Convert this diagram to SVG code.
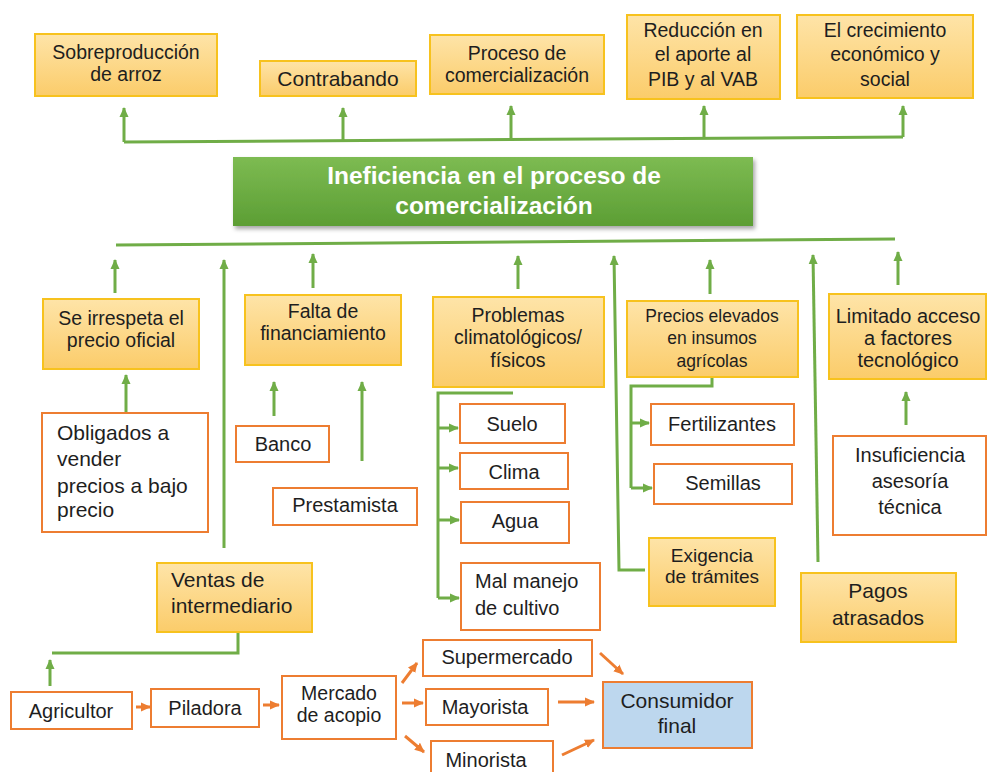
<svg xmlns="http://www.w3.org/2000/svg" width="987" height="772" viewBox="0 0 987 772">
<defs>
<linearGradient id="gy" x1="0" y1="0" x2="0" y2="1">
<stop offset="0" stop-color="#fee4a8"/>
<stop offset="1" stop-color="#fbcc6a"/>
</linearGradient>
<linearGradient id="gg" x1="0" y1="0" x2="0" y2="1">
<stop offset="0" stop-color="#7dbb52"/>
<stop offset="1" stop-color="#5c9e34"/>
</linearGradient>
<filter id="sh" x="-5%" y="-10%" width="115%" height="130%">
<feDropShadow dx="2" dy="3" stdDeviation="2" flood-color="#000" flood-opacity="0.35"/>
</filter>
<marker id="ag" viewBox="0 0 10 10" refX="9" refY="5" markerWidth="10" markerHeight="10" markerUnits="userSpaceOnUse" orient="auto">
<path d="M0,0.5 L10,5 L0,9.5 z" fill="#70ad47"/>
</marker>
<marker id="ao" viewBox="0 0 10 10" refX="9" refY="5" markerWidth="10" markerHeight="10" markerUnits="userSpaceOnUse" orient="auto">
<path d="M0,0.5 L10,5 L0,9.5 z" fill="#ed7d31"/>
</marker>
</defs>
<style>
text{font-family:"Liberation Sans",Arial,sans-serif;fill:#1e1e1e;font-size:20px}
.c{text-anchor:middle}
.y{fill:url(#gy);stroke:#f7c21e;stroke-width:2}
.o{fill:#ffffff;stroke:#ed7d31;stroke-width:2}
.b{fill:#bdd7ee;stroke:#ed7d31;stroke-width:2}
.gl{fill:none;stroke:#70ad47;stroke-width:3}
.ga{fill:none;stroke:#70ad47;stroke-width:3;marker-end:url(#ag)}
.oa{fill:none;stroke:#ed7d31;stroke-width:3;marker-end:url(#ao)}
.t{font-size:19.5px}
.s{font-size:17.5px}
.w{font-size:24.5px;font-weight:bold;fill:#ffffff}
</style>
<rect width="987" height="772" fill="#ffffff"/>

<g id="connectors">
<path class="gl" d="M124,142 L903,137"/>
<path class="ga" d="M124,142 L124,108"/>
<path class="ga" d="M343,141 L343,108"/>
<path class="ga" d="M511,139 L511,106"/>
<path class="ga" d="M704,138 L704,106"/>
<path class="ga" d="M903,137 L903,106"/>
<path class="gl" d="M116,245 L895,239"/>
<path class="ga" d="M115,293 L115,260"/>
<path class="ga" d="M224,548 L224,260"/>
<path class="ga" d="M313,288 L313,254"/>
<path class="ga" d="M518,289 L518,256"/>
<path class="ga" d="M645,570 L619,570 L614,256"/>
<path class="ga" d="M710,294 L710,260"/>
<path class="ga" d="M818,562 L813,255"/>
<path class="ga" d="M898,285 L898,252"/>
<path class="ga" d="M126,413 L126,375"/>
<path class="ga" d="M274,416 L274,382"/>
<path class="ga" d="M362,461 L362,382"/>
<path class="gl" d="M513,393 L438,393 L438,598"/>
<path class="ga" d="M438,428 L458,428"/>
<path class="ga" d="M438,468 L458,468"/>
<path class="ga" d="M438,520 L459,520"/>
<path class="ga" d="M438,598 L459,598"/>
<path class="gl" d="M712,376 L712,386 L631,386 L631,488"/>
<path class="ga" d="M631,423 L649,423"/>
<path class="ga" d="M631,488 L652,488"/>
<path class="ga" d="M906,425 L906,392"/>
<path class="gl" d="M238,632 L238,653 L52,653"/>
<path class="ga" d="M50,686 L50,660"/>
<path class="oa" d="M136,707 L150,707"/>
<path class="oa" d="M263,705 L279,705"/>
<path class="oa" d="M402,683 L417,663"/>
<path class="oa" d="M402,703 L423,703"/>
<path class="oa" d="M405,736 L424,752"/>
<path class="oa" d="M600,653 L623,674"/>
<path class="oa" d="M558,702 L594,702"/>
<path class="oa" d="M562,755 L594,740"/>
</g>

<g id="n-sobreproduccion"><rect class="y" x="35" y="34" width="182" height="62"/><text class="c t" x="126" y="59">Sobreproducción</text><text class="c t" x="126" y="81">de arroz</text></g>
<g id="n-contrabando"><rect class="y" x="260" y="61" width="156" height="35"/><text class="c" x="338" y="86" style="font-size:21px">Contrabando</text></g>
<g id="n-proceso"><rect class="y" x="430" y="35" width="174" height="59"/><text class="c t" x="517" y="60">Proceso de</text><text class="c t" x="517" y="82">comercialización</text></g>
<g id="n-reduccion"><rect class="y" x="627" y="15" width="153" height="84"/><text class="c t" x="703" y="37">Reducción en</text><text class="c t" x="703" y="61">el aporte al</text><text class="c t" x="703" y="86">PIB y al VAB</text></g>
<g id="n-crecimiento"><rect class="y" x="797" y="15" width="176" height="83"/><text class="c t" x="885" y="37">El crecimiento</text><text class="c t" x="885" y="61">económico y</text><text class="c t" x="885" y="86">social</text></g>

<g id="n-ineficiencia"><rect x="233" y="157" width="520" height="69" fill="url(#gg)" filter="url(#sh)"/><text class="c w" x="494" y="184">Ineficiencia en el proceso de</text><text class="c w" x="494" y="214">comercialización</text></g>

<g id="n-irrespeta"><rect class="y" x="43" y="299" width="156" height="70"/><text class="c t" x="121" y="325">Se irrespeta el</text><text class="c t" x="121" y="347">precio oficial</text></g>
<g id="n-falta"><rect class="y" x="245" y="295" width="156" height="70"/><text class="c t" x="323" y="318">Falta de</text><text class="c t" x="323" y="340">financiamiento</text></g>
<g id="n-problemas"><rect class="y" x="433" y="297" width="171" height="90"/><text class="c t" x="518" y="322">Problemas</text><text class="c t" x="518" y="344">climatológicos/</text><text class="c t" x="518" y="367">físicos</text></g>
<g id="n-precios"><rect class="y" x="627" y="301" width="171" height="76"/><text class="c s" x="712" y="322">Precios elevados</text><text class="c s" x="712" y="344">en insumos</text><text class="c s" x="712" y="367">agrícolas</text></g>
<g id="n-limitado"><rect class="y" x="829" y="294" width="157" height="85"/><text class="c" x="908" y="323">Limitado acceso</text><text class="c" x="908" y="345">a factores</text><text class="c" x="908" y="367">tecnológico</text></g>

<g id="n-obligados"><rect class="o" x="42" y="413" width="166" height="119"/><text x="57" y="440" style="font-size:21px">Obligados a</text><text x="57" y="466" style="font-size:21px">vender</text><text x="57" y="493" style="font-size:21px">precios a bajo</text><text x="57" y="517" style="font-size:21px">precio</text></g>
<g id="n-banco"><rect class="o" x="236" y="426" width="93" height="36"/><text class="c" x="283" y="451">Banco</text></g>
<g id="n-prestamista"><rect class="o" x="273" y="488" width="144" height="37"/><text class="c" x="345" y="512">Prestamista</text></g>
<g id="n-ventas"><rect class="y" x="157" y="563" width="155" height="69"/><text x="171" y="587" style="font-size:21px">Ventas de</text><text x="171" y="613" style="font-size:21px">intermediario</text></g>

<g id="n-suelo"><rect class="o" x="460" y="404" width="105" height="39"/><text class="c" x="512" y="431">Suelo</text></g>
<g id="n-clima"><rect class="o" x="460" y="453" width="108" height="36"/><text class="c" x="514" y="479">Clima</text></g>
<g id="n-agua"><rect class="o" x="461" y="502" width="108" height="41"/><text class="c" x="515" y="528">Agua</text></g>
<g id="n-malmanejo"><rect class="o" x="461" y="563" width="139" height="67"/><text x="475" y="588">Mal manejo</text><text x="475" y="615">de cultivo</text></g>

<g id="n-fertilizantes"><rect class="o" x="651" y="404" width="143" height="41"/><text class="c" x="722" y="431">Fertilizantes</text></g>
<g id="n-semillas"><rect class="o" x="654" y="464" width="138" height="40"/><text class="c" x="723" y="490">Semillas</text></g>
<g id="n-exigencia"><rect class="y" x="649" y="538" width="126" height="68"/><text class="c" x="712" y="562" style="font-size:19px">Exigencia</text><text class="c" x="712" y="583" style="font-size:19px">de trámites</text></g>

<g id="n-insuficiencia"><rect class="o" x="833" y="436" width="153" height="99"/><text class="c" x="910" y="462">Insuficiencia</text><text class="c" x="910" y="488">asesoría</text><text class="c" x="910" y="514">técnica</text></g>
<g id="n-pagos"><rect class="y" x="801" y="573" width="155" height="69"/><text class="c" x="878" y="598" style="font-size:21px">Pagos</text><text class="c" x="878" y="625" style="font-size:21px">atrasados</text></g>

<g id="n-agricultor"><rect class="o" x="11" y="692" width="121" height="37"/><text class="c" x="71" y="718">Agricultor</text></g>
<g id="n-piladora"><rect class="o" x="151" y="689" width="108" height="38"/><text class="c" x="205" y="715">Piladora</text></g>
<g id="n-mercado"><rect class="o" x="282" y="676" width="114" height="63"/><text class="c" x="339" y="700" style="font-size:19.5px">Mercado</text><text class="c" x="339" y="722" style="font-size:19.5px">de acopio</text></g>
<g id="n-supermercado"><rect class="o" x="423" y="640" width="169" height="36"/><text class="c" x="507" y="664">Supermercado</text></g>
<g id="n-mayorista"><rect class="o" x="426" y="689" width="122" height="36"/><text class="c" x="485" y="714">Mayorista</text></g>
<g id="n-minorista"><rect class="o" x="431" y="741" width="122" height="40"/><text class="c" x="486" y="767">Minorista</text></g>
<g id="n-consumidor"><rect class="b" x="603" y="682" width="149" height="66"/><text class="c" x="677" y="708" style="font-size:21px">Consumidor</text><text class="c" x="677" y="733" style="font-size:21px">final</text></g>
</svg>
